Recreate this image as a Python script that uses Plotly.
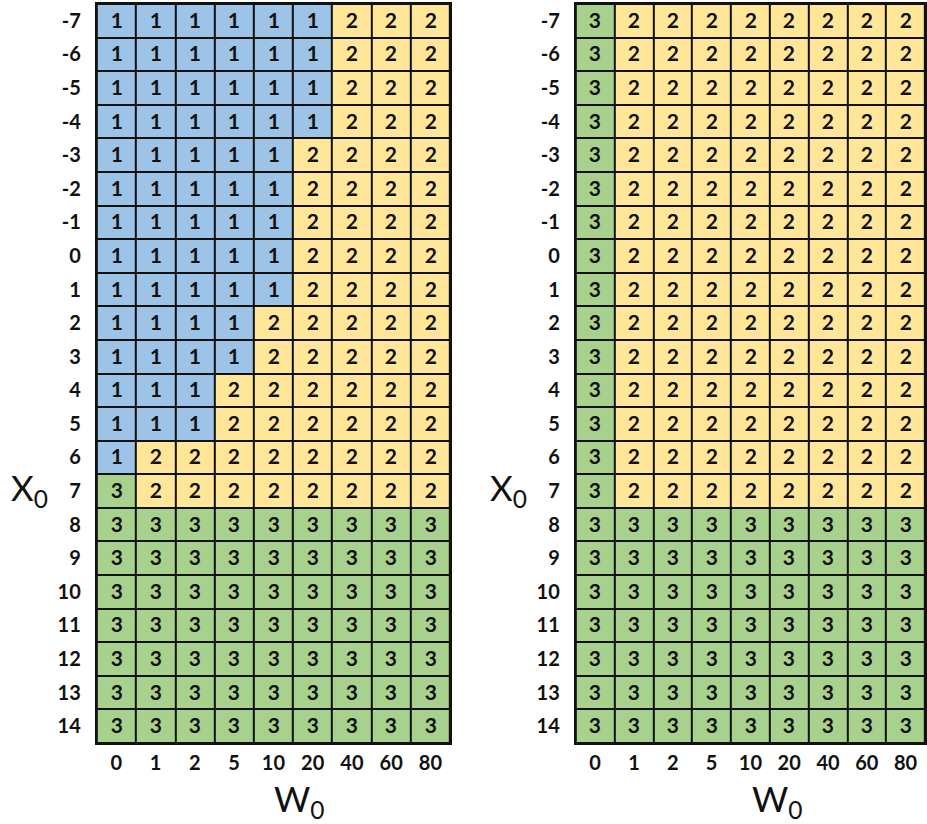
import plotly.graph_objects as go

# Axis categories
w0_labels = ["0", "1", "2", "5", "10", "20", "40", "60", "80"]
x0_labels = [str(v) for v in range(-7, 15)]

# Regime index for each (X0, W0) cell, rows ordered X0 = -7 .. 14
left_grid = [
    [1, 1, 1, 1, 1, 1, 2, 2, 2],  # -7
    [1, 1, 1, 1, 1, 1, 2, 2, 2],  # -6
    [1, 1, 1, 1, 1, 1, 2, 2, 2],  # -5
    [1, 1, 1, 1, 1, 1, 2, 2, 2],  # -4
    [1, 1, 1, 1, 1, 2, 2, 2, 2],  # -3
    [1, 1, 1, 1, 1, 2, 2, 2, 2],  # -2
    [1, 1, 1, 1, 1, 2, 2, 2, 2],  # -1
    [1, 1, 1, 1, 1, 2, 2, 2, 2],  # 0
    [1, 1, 1, 1, 1, 2, 2, 2, 2],  # 1
    [1, 1, 1, 1, 2, 2, 2, 2, 2],  # 2
    [1, 1, 1, 1, 2, 2, 2, 2, 2],  # 3
    [1, 1, 1, 2, 2, 2, 2, 2, 2],  # 4
    [1, 1, 1, 2, 2, 2, 2, 2, 2],  # 5
    [1, 2, 2, 2, 2, 2, 2, 2, 2],  # 6
    [3, 2, 2, 2, 2, 2, 2, 2, 2],  # 7
    [3, 3, 3, 3, 3, 3, 3, 3, 3],  # 8
    [3, 3, 3, 3, 3, 3, 3, 3, 3],  # 9
    [3, 3, 3, 3, 3, 3, 3, 3, 3],  # 10
    [3, 3, 3, 3, 3, 3, 3, 3, 3],  # 11
    [3, 3, 3, 3, 3, 3, 3, 3, 3],  # 12
    [3, 3, 3, 3, 3, 3, 3, 3, 3],  # 13
    [3, 3, 3, 3, 3, 3, 3, 3, 3],  # 14
]

right_grid = [
    [3, 2, 2, 2, 2, 2, 2, 2, 2],  # -7
    [3, 2, 2, 2, 2, 2, 2, 2, 2],  # -6
    [3, 2, 2, 2, 2, 2, 2, 2, 2],  # -5
    [3, 2, 2, 2, 2, 2, 2, 2, 2],  # -4
    [3, 2, 2, 2, 2, 2, 2, 2, 2],  # -3
    [3, 2, 2, 2, 2, 2, 2, 2, 2],  # -2
    [3, 2, 2, 2, 2, 2, 2, 2, 2],  # -1
    [3, 2, 2, 2, 2, 2, 2, 2, 2],  # 0
    [3, 2, 2, 2, 2, 2, 2, 2, 2],  # 1
    [3, 2, 2, 2, 2, 2, 2, 2, 2],  # 2
    [3, 2, 2, 2, 2, 2, 2, 2, 2],  # 3
    [3, 2, 2, 2, 2, 2, 2, 2, 2],  # 4
    [3, 2, 2, 2, 2, 2, 2, 2, 2],  # 5
    [3, 2, 2, 2, 2, 2, 2, 2, 2],  # 6
    [3, 2, 2, 2, 2, 2, 2, 2, 2],  # 7
    [3, 3, 3, 3, 3, 3, 3, 3, 3],  # 8
    [3, 3, 3, 3, 3, 3, 3, 3, 3],  # 9
    [3, 3, 3, 3, 3, 3, 3, 3, 3],  # 10
    [3, 3, 3, 3, 3, 3, 3, 3, 3],  # 11
    [3, 3, 3, 3, 3, 3, 3, 3, 3],  # 12
    [3, 3, 3, 3, 3, 3, 3, 3, 3],  # 13
    [3, 3, 3, 3, 3, 3, 3, 3, 3],  # 14
]

W, H = 927, 824
BLUE, YELLOW, GREEN = "#9DC3E6", "#FFE699", "#A9D18E"
FONT = "Lato"

colorscale = [[0.0, BLUE], [0.5, YELLOW], [1.0, GREEN]]


def px_x(p):
    return p / W


def px_y(p):
    return 1 - p / H


fig = go.Figure()

for z, xa, ya in [(left_grid, "x", "y"), (right_grid, "x2", "y2")]:
    fig.add_trace(go.Heatmap(
        z=z, x=w0_labels, y=x0_labels,
        xaxis=xa, yaxis=ya,
        zmin=1, zmax=3, colorscale=colorscale, showscale=False,
        xgap=2, ygap=2,
        texttemplate="%{z}",
        textfont=dict(family=FONT, size=21, color="#111111", weight="bold"),
        hoverinfo="skip",
    ))

y_dom = [px_y(743), px_y(4)]
tick_font = dict(family=FONT, size=20, color="#111111", weight="bold")
common_x = dict(type="category", showgrid=False, zeroline=False, ticks="",
                showline=True, linecolor="#111111", linewidth=2, mirror=True,
                ticklabelstandoff=1, tickfont=tick_font)
common_y = dict(type="category", autorange="reversed", showgrid=False,
                zeroline=False, ticks="",
                showline=True, linecolor="#111111", linewidth=2, mirror=True,
                ticklabelstandoff=10, tickfont=tick_font)

fig.update_layout(
    width=W, height=H,
    margin=dict(l=0, r=0, t=0, b=0),
    paper_bgcolor="white",
    plot_bgcolor="#111111",
    xaxis=dict(domain=[px_x(97), px_x(451)], anchor="y", **common_x),
    yaxis=dict(domain=y_dom, anchor="x", **common_y),
    xaxis2=dict(domain=[px_x(577), 1.0], anchor="y2", **common_x),
    yaxis2=dict(domain=y_dom, anchor="x2", **common_y),
    showlegend=False,
)

title_font = dict(family=FONT, size=35, color="#111111")
for cx in (300, 779):
    fig.add_annotation(text="W<sub>0</sub>", x=px_x(cx), y=px_y(800),
                       xref="paper", yref="paper", showarrow=False,
                       xanchor="center", yanchor="middle", font=title_font)
for cx in (30, 510):
    fig.add_annotation(text="X<sub>0</sub>", x=px_x(cx), y=px_y(490),
                       xref="paper", yref="paper", showarrow=False,
                       xanchor="center", yanchor="middle", font=title_font)

fig.write_html("out.html")
